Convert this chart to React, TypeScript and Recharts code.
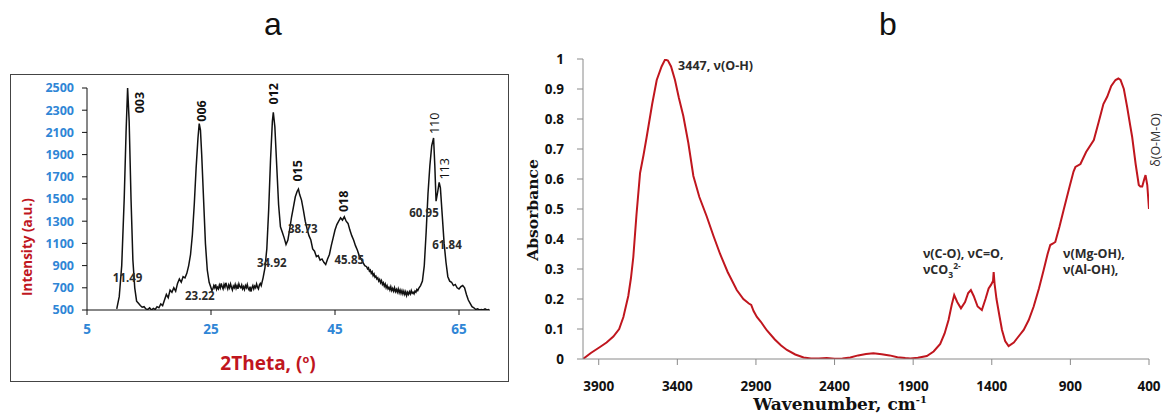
import React from 'react';
import { LineChart, Line, XAxis, YAxis, ReferenceDot } from 'recharts';

// ---------- Panel a : XRD ----------
const xrdTwoTheta = [
  9.8, 10.2, 10.6, 11.0, 11.3, 11.55, 11.8, 12.1, 12.4, 12.7, 13.0, 13.3, 13.6, 13.9, 14.2, 14.5, 14.8, 15.1, 15.4, 15.7,
  16.0, 16.3, 16.6, 16.9, 17.2, 17.5, 17.8, 18.1, 18.4, 18.7, 19.0, 19.3, 19.6, 19.9, 20.2, 20.5, 20.8, 21.1, 21.4, 21.7,
  22.0, 22.3, 22.6, 22.9, 23.1, 23.3, 23.5, 23.8, 24.1, 24.4, 24.7,
  25.0, 25.15, 25.3, 25.45, 25.6, 25.75, 25.9, 26.05, 26.2, 26.35, 26.5, 26.65, 26.8, 26.95, 27.1, 27.25, 27.4, 27.55, 27.7, 27.85,
  28.0, 28.15, 28.3, 28.45, 28.6, 28.75, 28.9, 29.05, 29.2, 29.35, 29.5, 29.65, 29.8, 29.95, 30.1, 30.25, 30.4, 30.55, 30.7, 30.85,
  31.0, 31.15, 31.3, 31.45, 31.6, 31.75, 31.9, 32.05, 32.2, 32.35, 32.5, 32.65, 32.8, 32.95, 33.1,
  33.4, 33.7, 34.0, 34.3, 34.6, 34.9, 35.05, 35.3, 35.6, 35.9, 36.2, 36.5, 36.8, 37.1, 37.4, 37.7, 38.0, 38.3, 38.6, 38.9,
  39.1, 39.3, 39.6, 39.9, 40.2, 40.5, 40.8, 41.1, 41.4, 41.7, 42.0, 42.3, 42.6, 42.9, 43.2, 43.5, 43.8, 44.1, 44.4, 44.7,
  45.0, 45.3, 45.6, 45.9, 46.2, 46.5, 46.8, 47.1, 47.4, 47.7, 48.0, 48.3, 48.6, 48.9, 49.2, 49.5, 49.8,
  50.1, 50.25, 50.4, 50.55, 50.7, 50.85, 51.0, 51.15, 51.3, 51.45, 51.6, 51.75, 51.9, 52.05, 52.2, 52.35, 52.5, 52.65, 52.8, 52.95,
  53.1, 53.25, 53.4, 53.55, 53.7, 53.85, 54.0, 54.15, 54.3, 54.45, 54.6, 54.75, 54.9, 55.05, 55.2, 55.35, 55.5, 55.65, 55.8, 55.95,
  56.1, 56.25, 56.4, 56.55, 56.7, 56.85, 57.0, 57.15, 57.3, 57.45, 57.6, 57.75, 57.9, 58.05, 58.2, 58.35, 58.5,
  58.8, 59.1, 59.4, 59.7, 60.0, 60.3, 60.6, 60.9, 61.1, 61.3, 61.55, 61.8, 62.0, 62.3, 62.6, 62.9, 63.2, 63.5, 63.8, 64.1,
  64.4, 64.7, 65.0, 65.3, 65.6, 65.9, 66.2, 66.5, 66.8, 67.1, 67.4, 67.7, 68.0, 68.3, 68.6, 68.9, 69.2, 69.5, 69.85,
];
const xrdIntensity = [
  510, 620, 900, 1500, 2100, 2500, 2200, 1500, 950, 700, 580, 560, 540, 525, 530, 510, 505, 520, 500, 515,
  505, 530, 520, 555, 540, 590, 640, 610, 680, 660, 700, 670, 740, 780, 750, 800, 790, 830, 900, 1000,
  1180, 1450, 1780, 2050, 2180, 2120, 1900, 1500, 1100, 860, 750,
  700, 675, 690, 720, 700, 730, 685, 705, 690, 725, 700, 740, 710, 690, 730, 705, 745, 715, 690, 725,
  700, 735, 705, 680, 715, 700, 730, 695, 720, 690, 735, 710, 700, 725, 690, 710, 685, 720, 700, 730,
  695, 680, 710, 665, 700, 720, 690, 715, 700, 735, 705, 690, 725, 740, 720,
  790, 880, 1050, 1400, 1850, 2200, 2280, 2150, 1800, 1450, 1250, 1200, 1150, 1090, 1130, 1230, 1340, 1430, 1520, 1570,
  1590, 1540, 1490, 1400, 1300, 1230, 1170, 1130, 1050, 1030, 980, 990, 950, 960, 930, 910, 960, 1000, 1080, 1150,
  1220, 1270, 1300, 1330, 1310, 1340, 1300, 1280, 1220, 1170, 1130, 1080, 1040, 990, 960, 930, 900,
  890, 870, 880, 850, 860, 830, 845, 810, 825, 795, 805, 780, 790, 760, 775, 745, 765, 730, 745, 715,
  735, 700, 720, 690, 705, 680, 710, 675, 695, 670, 700, 665, 685, 660, 690, 655, 680, 650, 675, 645,
  670, 640, 665, 630, 660, 640, 665, 645, 675, 650, 660, 645, 670, 660, 685, 675, 695,
  720, 760, 900, 1200, 1550, 1800, 1980, 2050, 1800, 1480, 1560, 1650, 1600, 1350, 1100, 930, 800, 760, 750, 720,
  730, 700, 690, 710, 720, 700, 640, 590, 560, 530, 520, 505, 510, 500, 505, 500, 510, 500, 505,
];
const xrdXTicks = [5, 25, 45, 65];
const xrdYTicks = [500, 700, 900, 1100, 1300, 1500, 1700, 1900, 2100, 2300, 2500];

// hkl labels (rotated) and angle labels
const hklText = ['003', '006', '012', '015', '018', '110', '113'];
const hklTheta = [13.4, 23.5, 35.05, 39.0, 46.3, 61.1, 62.6];
const hklIntensity = [2369, 2293, 2448, 1754, 1479, 2182, 1772];
const hklBold = [true, true, true, true, true, false, false];

const angleText = ['11.49', '23.22', '34.92', '38.73', '45.85', '60.95', '61.84'];
const angleTheta = [11.55, 23.2, 34.8, 39.8, 47.3, 59.35, 63.06];
const angleIntensity = [797, 635, 932, 1230, 959, 1374, 1086];

// ---------- Panel b : FTIR ----------
const ftirWavenumber = [
  4000, 3950, 3892, 3850, 3807, 3770, 3743, 3712, 3695, 3680, 3660, 3637, 3615, 3595, 3560, 3531, 3500, 3478, 3460, 3440,
  3415, 3390, 3362, 3330, 3298, 3260, 3213, 3170, 3128, 3080, 3022, 2980, 2945, 2930, 2915, 2894, 2870, 2830, 2780, 2740,
  2703, 2650, 2597, 2550, 2500, 2450, 2400, 2350, 2300, 2250, 2200, 2153, 2100, 2050, 2000, 1950, 1918, 1870, 1813, 1770,
  1728, 1700, 1675, 1655, 1639, 1620, 1596, 1570, 1550, 1533, 1515, 1490, 1463, 1440, 1420, 1405, 1392, 1388, 1382, 1370,
  1350, 1335, 1315, 1293, 1260, 1230, 1197, 1165, 1134, 1100, 1070, 1045, 1028, 1010, 996, 970, 943, 905, 880, 868,
  836, 800, 751, 720, 690, 666, 640, 613, 595, 581, 560, 539, 520, 507, 485, 465, 455, 443, 430, 422,
  411, 400,
];
const ftirAbsorbance = [
  0, 0.02, 0.04, 0.055, 0.075, 0.1, 0.14, 0.21, 0.27, 0.34, 0.48, 0.62, 0.68, 0.74, 0.85, 0.93, 0.975, 0.998, 0.995, 0.975,
  0.93, 0.87, 0.81, 0.72, 0.61, 0.54, 0.475, 0.41, 0.35, 0.29, 0.23, 0.2, 0.185, 0.18, 0.16, 0.14, 0.125, 0.095, 0.065, 0.045,
  0.03, 0.015, 0.005, 0.002, 0.002, 0.003, 0.001, 0.002, 0.005, 0.012, 0.017, 0.019, 0.016, 0.012, 0.006, 0.003, 0.002, 0.004, 0.01, 0.025,
  0.05, 0.085, 0.13, 0.18, 0.213, 0.19, 0.169, 0.19, 0.22, 0.23, 0.21, 0.175, 0.163, 0.2, 0.235, 0.247, 0.26, 0.29, 0.25, 0.2,
  0.14, 0.097, 0.06, 0.043, 0.055, 0.075, 0.097, 0.13, 0.174, 0.235, 0.297, 0.35, 0.38, 0.385, 0.39, 0.44, 0.497, 0.575, 0.625, 0.64,
  0.65, 0.69, 0.73, 0.79, 0.85, 0.874, 0.91, 0.93, 0.935, 0.93, 0.9, 0.84, 0.78, 0.74, 0.65, 0.58, 0.575, 0.575, 0.6, 0.613,
  0.58, 0.5,
];
const ftirXTicks = [3900, 3400, 2900, 2400, 1900, 1400, 900, 400];
const ftirYTicks = [0, 0.1, 0.2, 0.3, 0.4, 0.5, 0.6, 0.7, 0.8, 0.9, 1];

const xrdData = xrdTwoTheta.map((t, i) => ({ t, v: xrdIntensity[i] }));
const ftirData = ftirWavenumber.map((w, i) => ({ w, a: ftirAbsorbance[i] }));

const BLUE = '#2f86d6';
const RED = '#c0161e';
const tickFont = '"Open Sans", sans-serif';

const centerOf = (p: any) => {
  const vb = p.viewBox || {};
  return { cx: (vb.x || 0) + (vb.width || 0) / 2, cy: (vb.y || 0) + (vb.height || 0) / 2 };
};

const rotatedLabel = (text: string, bold: boolean, size: number, color: string, dx = 0) => (p: any) => {
  const { cx, cy } = centerOf(p);
  const x = cx + dx;
  return (
    <text
      x={x}
      y={cy}
      transform={`rotate(-90 ${x} ${cy})`}
      textAnchor="middle"
      dominantBaseline="central"
      fontFamily={tickFont}
      fontWeight={bold ? 700 : 400}
      fontSize={size}
      fill={color}
    >
      {text}
    </text>
  );
};

const flatLabel = (text: string) => (p: any) => {
  const { cx, cy } = centerOf(p);
  return (
    <text x={cx} y={cy} textAnchor="middle" dominantBaseline="central" fontFamily={tickFont} fontWeight={700} fontSize={11.5} fill="#2b2b2b">
      {text}
    </text>
  );
};

const co3Label = (p: any) => {
  const { cx, cy } = centerOf(p);
  return (
    <text x={cx} y={cy} dominantBaseline="central" fontFamily={tickFont} fontWeight={700} fontSize={12.5} fill="#2b2b2b">
      νCO
      <tspan fontSize={8.5} dy={4}>3</tspan>
      <tspan fontSize={8.5} dy={-9}>2-</tspan>
    </text>
  );
};

const bText = (text: string) => (p: any) => {
  const { cx, cy } = centerOf(p);
  return (
    <text x={cx} y={cy} dominantBaseline="central" fontFamily={tickFont} fontWeight={700} fontSize={12.5} fill="#2b2b2b">
      {text}
    </text>
  );
};

export default function App() {
  return (
    <div style={{ position: 'absolute', left: 0, top: 0, width: 1162, height: 414, background: '#fff', overflow: 'hidden' }}>
      {/* Panel titles */}
      <div style={{ position: 'absolute', left: 253, top: 4, width: 40, textAlign: 'center', fontFamily: '"Liberation Sans", Arial, sans-serif', fontSize: 32, lineHeight: '40px', color: '#111' }}>a</div>
      <div style={{ position: 'absolute', left: 868, top: 4, width: 40, textAlign: 'center', fontFamily: '"Liberation Sans", Arial, sans-serif', fontSize: 32, lineHeight: '40px', color: '#111' }}>b</div>

      {/* Panel a frame */}
      <div style={{ position: 'absolute', left: 10, top: 74, width: 497, height: 306, border: '1.5px solid #444' }} />

      {/* Panel a chart */}
      <div style={{ position: 'absolute', left: 0, top: 0 }}>
        <LineChart width={520} height={414} data={xrdData} margin={{ top: 88, right: 30, bottom: 74, left: 27 }}>
          <XAxis
            dataKey="t"
            type="number"
            domain={[5, 70]}
            ticks={xrdXTicks}
            allowDataOverflow
            height={30}
            tickSize={5}
            tickMargin={9}
            stroke="#111"
            tick={{ fill: BLUE, fontFamily: tickFont, fontWeight: 700, fontSize: 13.5 }}
          />
          <YAxis
            type="number"
            domain={[500, 2500]}
            ticks={xrdYTicks}
            allowDataOverflow
            width={60}
            tickSize={5}
            tickMargin={8}
            stroke="#111"
            tick={{ fill: BLUE, fontFamily: tickFont, fontWeight: 700, fontSize: 12.5 }}
          />
          <Line dataKey="v" type="linear" stroke="#111" strokeWidth={1.5} dot={false} isAnimationActive={false} />
          {hklText.map((s, i) => (
            <ReferenceDot key={'h' + s} x={hklTheta[i]} y={hklIntensity[i]} r={0} fill="none" stroke="none" ifOverflow="visible"
              label={rotatedLabel(s, hklBold[i], 12.5, '#111')} />
          ))}
          {angleText.map((s, i) => (
            <ReferenceDot key={'a' + s} x={angleTheta[i]} y={angleIntensity[i]} r={0} fill="none" stroke="none" ifOverflow="visible"
              label={flatLabel(s)} />
          ))}
        </LineChart>
      </div>
      {/* Panel a axis titles */}
      <div style={{ position: 'absolute', left: 27, top: 247, width: 0, height: 0 }}>
        <div style={{ position: 'absolute', transform: 'translate(-50%,-50%) rotate(-90deg)', whiteSpace: 'nowrap', fontFamily: tickFont, fontWeight: 700, fontSize: 13.5, color: RED }}>Intensity (a.u.)</div>
      </div>
      <div style={{ position: 'absolute', left: 268, top: 363, width: 0, height: 0 }}>
        <div style={{ position: 'absolute', transform: 'translate(-50%,-50%)', whiteSpace: 'nowrap', fontFamily: tickFont, fontWeight: 700, fontSize: 19, color: RED }}>
          2Theta, (<sup style={{ fontSize: 11 }}>o</sup>)
        </div>
      </div>

      {/* Panel b chart */}
      <div style={{ position: 'absolute', left: 520, top: 0 }}>
        <LineChart width={642} height={414} data={ftirData} margin={{ top: 59, right: 13, bottom: 25, left: 23 }}>
          <XAxis
            dataKey="w"
            type="number"
            domain={[400, 4000]}
            reversed
            ticks={ftirXTicks}
            allowDataOverflow
            height={30}
            tickSize={6}
            tickMargin={16}
            stroke="#8a8a8a"
            tick={{ fill: '#111', fontFamily: tickFont, fontWeight: 700, fontSize: 13.5 }}
          />
          <YAxis
            type="number"
            domain={[0, 1]}
            ticks={ftirYTicks}
            allowDataOverflow
            width={40}
            tickSize={6}
            tickMargin={13}
            stroke="#8a8a8a"
            tick={{ fill: '#111', fontFamily: tickFont, fontWeight: 700, fontSize: 13.5 }}
          />
          <Line dataKey="a" type="linear" stroke={RED} strokeWidth={2} dot={false} isAnimationActive={false} />
          <ReferenceDot x={3395} y={0.98} r={0} fill="none" stroke="none" ifOverflow="visible" label={bText('3447, ν(O-H)')} />
          <ReferenceDot x={1838} y={0.353} r={0} fill="none" stroke="none" ifOverflow="visible" label={bText('ν(C-O), νC=O,')} />
          <ReferenceDot x={1838} y={0.297} r={0} fill="none" stroke="none" ifOverflow="visible" label={co3Label} />
          <ReferenceDot x={947} y={0.353} r={0} fill="none" stroke="none" ifOverflow="visible" label={bText('ν(Mg-OH),')} />
          <ReferenceDot x={947} y={0.297} r={0} fill="none" stroke="none" ifOverflow="visible" label={bText('ν(Al-OH),')} />
          <ReferenceDot x={400} y={0.73} r={0} fill="none" stroke="none" ifOverflow="visible" label={rotatedLabel('δ(O-M-O)', false, 12.5, '#333', 6)} />
        </LineChart>
      </div>
      {/* Panel b axis titles */}
      <div style={{ position: 'absolute', left: 532, top: 210, width: 0, height: 0 }}>
        <div style={{ position: 'absolute', transform: 'translate(-50%,-50%) rotate(-90deg)', whiteSpace: 'nowrap', fontFamily: '"DejaVu Serif", serif', fontWeight: 700, fontSize: 15.5, color: '#111' }}>Absorbance</div>
      </div>
      <div style={{ position: 'absolute', left: 840, top: 404, width: 0, height: 0 }}>
        <div style={{ position: 'absolute', transform: 'translate(-50%,-50%)', whiteSpace: 'nowrap', fontFamily: '"DejaVu Serif", serif', fontWeight: 700, fontSize: 17, color: '#111' }}>
          Wavenumber, cm<sup style={{ fontSize: 10 }}>-1</sup>
        </div>
      </div>
    </div>
  );
}
